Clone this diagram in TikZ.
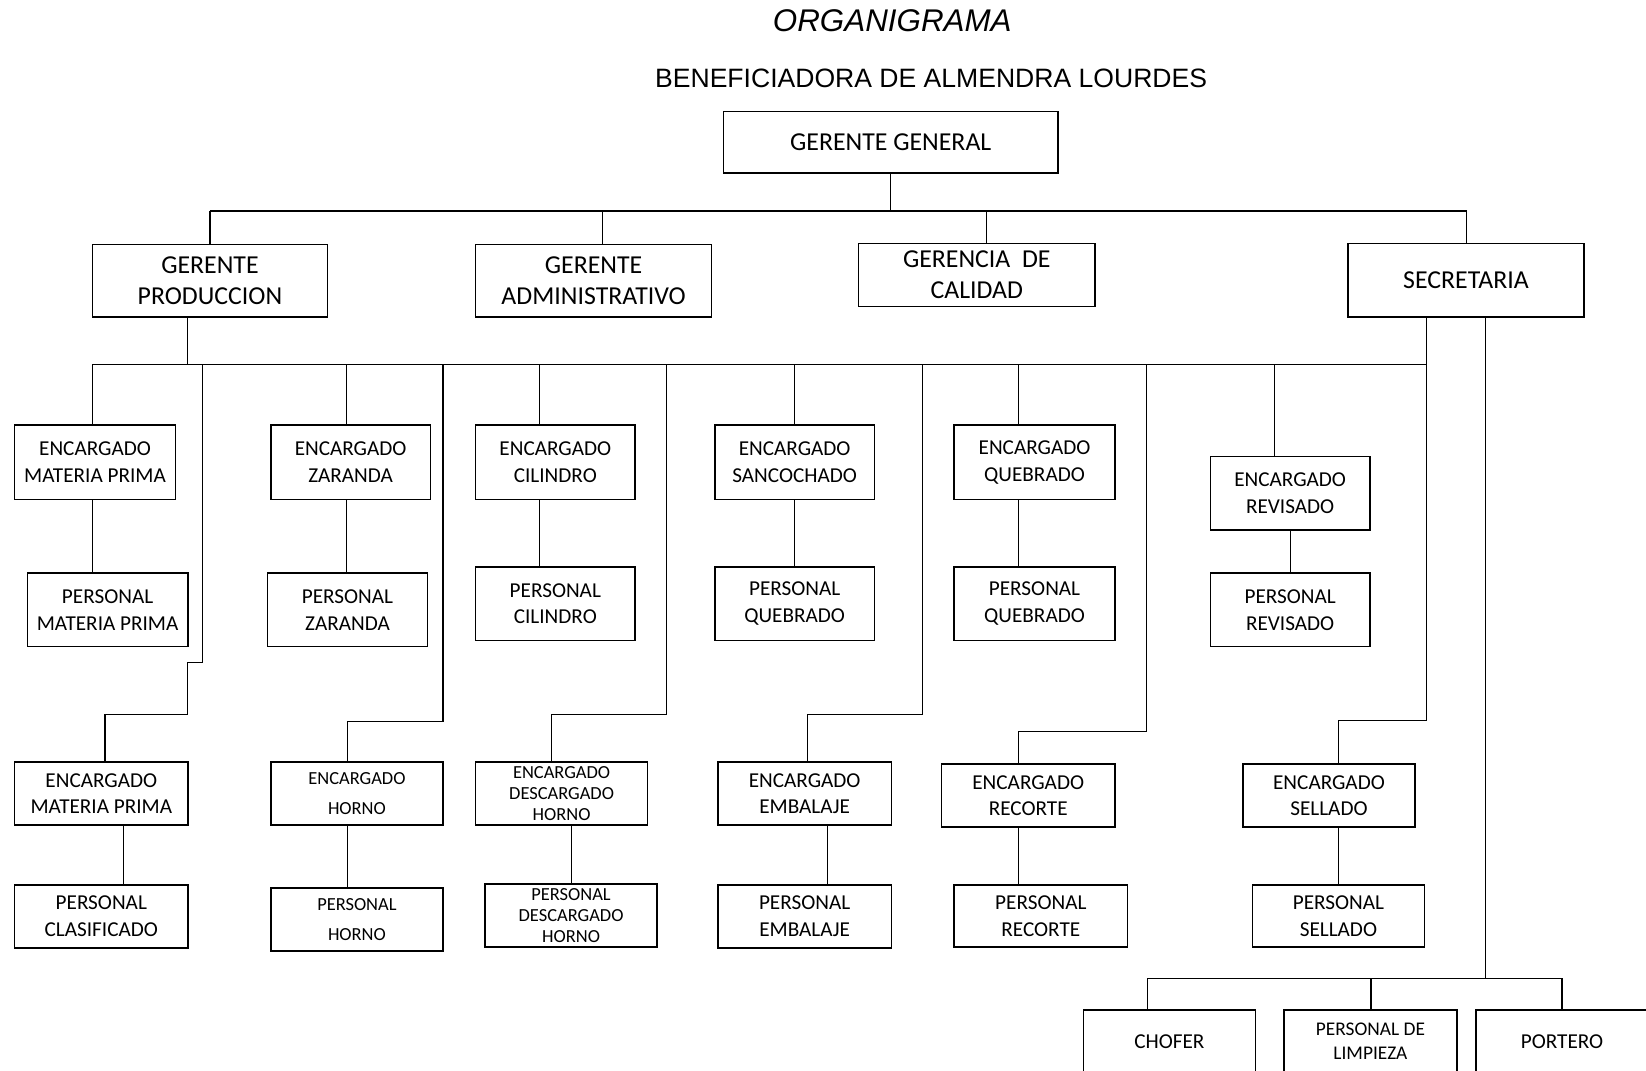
\documentclass[tikz,border=0pt]{standalone}
\usepackage{fontspec}
\setmainfont{Carlito}
\newfontfamily\titulo{Liberation Sans}

\newcommand*{\Caja}[7][caja]{%
   \node[#1, minimum width={(#5-#3)*0.02cm}, minimum height={(#6-#4)*0.02cm}]
     (#2) at ({(#3+#5)/2},{(#4+#6)/2}) {#7};}

\begin{document}
\begin{tikzpicture}[x=0.02cm, y=-0.02cm,
  caja/.style={draw, line width=0.8pt, inner sep=0pt, align=center,
    font=\fontsize{11.5}{14.5}\selectfont},
  jefe/.style={caja, font=\fontsize{14}{17}\selectfont},
  chica/.style={caja, font=\fontsize{10}{11.5}\selectfont},
  linea/.style={line width=0.6pt}]
            \useasboundingbox (0,0) rectangle (1568,1020);
            \clip (0,0) rectangle (1568,1020);
            \node[anchor=base, font=\titulo\itshape\fontsize{17}{20}\selectfont] (tit) at (850,30) {ORGANIGRAMA};
            \node[anchor=base, font=\titulo\fontsize{14.4}{17}\selectfont] (sub) at (887,83) {BENEFICIADORA DE ALMENDRA LOURDES};
            % jefes
            \Caja[jefe]{gg}{689}{106}{1008}{165}{GERENTE GENERAL}
            \Caja[jefe]{gp}{88}{233}{312}{302}{GERENTE\\PRODUCCION}
            \Caja[jefe]{ga}{453}{233}{678}{302}{GERENTE\\ADMINISTRATIVO}
            \Caja[jefe]{gc}{818}{232}{1043}{292}{GERENCIA~ DE\\CALIDAD}
            \Caja[jefe]{sec}{1284}{232}{1509}{302}{SECRETARIA}
            % encargados, fila de arriba
            \Caja{emp1}{14}{405}{167}{476}{ENCARGADO\\MATERIA PRIMA}
            \Caja{ezar}{258}{405}{410}{476}{ENCARGADO\\ZARANDA}
            \Caja{ecil}{453}{405}{605}{476}{ENCARGADO\\CILINDRO}
            \Caja{esan}{681}{405}{833}{476}{ENCARGADO\\SANCOCHADO}
            \Caja{equ}{909}{405}{1062}{476}{ENCARGADO\\QUEBRADO}
            \Caja{erev}{1153}{435}{1305}{505}{ENCARGADO\\REVISADO}
            \Caja{pmp1}{26}{546}{179}{616}{PERSONAL\\MATERIA PRIMA}
            \Caja{pzar}{255}{546}{407}{616}{PERSONAL\\ZARANDA}
            \Caja{pcil}{453}{540}{605}{610}{PERSONAL\\CILINDRO}
            \Caja{pque1}{681}{540}{833}{610}{PERSONAL\\QUEBRADO}
            \Caja{pque2}{909}{540}{1062}{610}{PERSONAL\\QUEBRADO}
            \Caja{prev}{1153}{546}{1305}{616}{PERSONAL\\REVISADO}
            % encargados, fila de abajo
            \Caja{emp2}{14}{726}{179}{786}{ENCARGADO\\MATERIA PRIMA}
            \Caja[chica]{ehor}{258}{726}{422}{786}{ENCARGADO\\[5pt]HORNO}
            \Caja[chica]{edes}{453}{726}{617}{786}{ENCARGADO\\DESCARGADO\\HORNO}
            \Caja{eemb}{684}{726}{849}{786}{ENCARGADO\\EMBALAJE}
            \Caja{erec}{897}{728}{1062}{788}{ENCARGADO\\RECORTE}
            \Caja{esel}{1184}{728}{1348}{788}{ENCARGADO\\SELLADO}
            \Caja{pcla}{14}{843}{179}{903}{PERSONAL\\CLASIFICADO}
            \Caja[chica]{phor}{258}{846}{422}{906}{PERSONAL\\[5pt]HORNO}
            \Caja[chica]{pdes}{462}{842}{626}{902}{PERSONAL\\DESCARGADO\\HORNO}
            \Caja{pemb}{684}{843}{849}{903}{PERSONAL\\EMBALAJE}
            \Caja{prec}{909}{843}{1074}{902}{PERSONAL\\RECORTE}
            \Caja{psel}{1193}{843}{1357}{902}{PERSONAL\\SELLADO}
            % secretaria
            \Caja{cho}{1032}{962}{1196}{1022}{CHOFER}
            \Caja[caja, font=\fontsize{10.5}{13}\selectfont]{lim}{1223}{962}{1388}{1022}{PERSONAL DE\\LIMPIEZA}
            \Caja{por}{1406}{962}{1570}{1022}{PORTERO}
            % lineas
            \coordinate (bus1) at (0,201);
            \coordinate (bus3) at (0,347);
            \coordinate (bus5) at (0,932);
            \draw[linea] (gg.south) -- (gg.south |- bus1);
            \draw[linea] (bus1 -| 200,0) -- (bus1 -| 1397,0);
            \foreach \n/\x in {gp/200,ga/574,gc/940,sec/1397}{
              \draw[linea] (\n.north -| \x,0) -- (bus1 -| \x,0);
            }
            \draw[linea] (gp.south -| 179,0) -- (bus3 -| 179,0);
            \draw[linea] (bus3 -| 88,0) -- (bus3 -| 1359,0);
            \foreach \n/\x in {emp1/88,ezar/330,ecil/514,esan/757,equ/970,erev/1214}{
              \draw[linea] (\n.north -| \x,0) -- (bus3 -| \x,0);
            }
            \foreach \a/\b/\x in {emp1/pmp1/88,ezar/pzar/330,ecil/pcil/514,esan/pque1/757,
                equ/pque2/970,erev/prev/1229,emp2/pcla/118,ehor/phor/331,edes/pdes/544,
                eemb/pemb/788,erec/prec/970,esel/psel/1275}{
              \draw[linea] (\a.south -| \x,0) -- (\b.north -| \x,0);
            }
            \draw[linea] (emp2.north -| 100,0) |- (179,681) |- (193,631) -- (bus3 -| 193,0);
            \draw[linea] (ehor.north -| 331,0) |- (422,687) -- (bus3 -| 422,0);
            \draw[linea] (edes.north -| 525,0) |- (635,681) -- (bus3 -| 635,0);
            \draw[linea] (eemb.north -| 769,0) |- (879,681) -- (bus3 -| 879,0);
            \draw[linea] (erec.north -| 970,0) |- (1092,697) -- (bus3 -| 1092,0);
            \draw[linea] (esel.north -| 1275,0) |- (1359,686) -- (sec.south -| 1359,0);
            \draw[linea] (sec.south -| 1415,0) -- (bus5 -| 1415,0);
            \draw[linea] (bus5 -| 1093,0) -- (bus5 -| 1488,0);
            \foreach \n/\x in {cho/1093,lim/1306,por/1488}{
              \draw[linea] (\n.north -| \x,0) -- (bus5 -| \x,0);
            }
          \end{tikzpicture}
\end{document}
